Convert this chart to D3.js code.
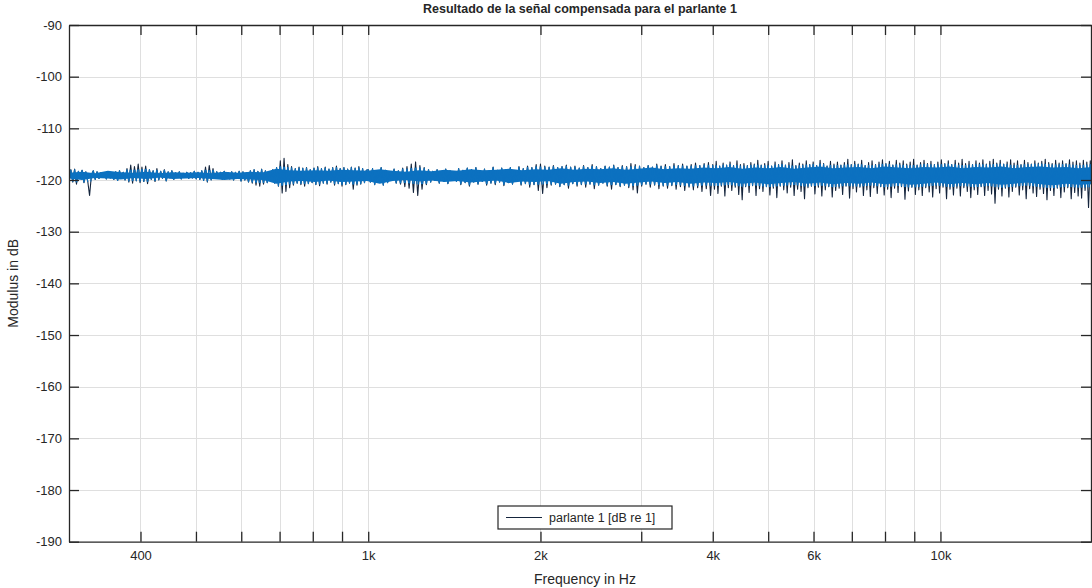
<!DOCTYPE html>
<html>
<head>
<meta charset="utf-8">
<script src="https://cdn.jsdelivr.net/npm/d3@7"></script>
<style>
  body { margin: 0; background: #fff; }
  svg text { font-family: "Liberation Sans", Arial, Helvetica, sans-serif; fill: #262626; }
</style>
</head>
<body>
<svg id="chart" width="1092" height="588"></svg>
<script>
// ── Data ─────────────────────────────────────────────────────────────────────

const chartTitle = "Resultado de la señal compensada para el parlante 1";
const xLabel = "Frequency in Hz";
const yLabel = "Modulus in dB";
const legendLabel = "parlante 1 [dB re 1]";

const freqRange = [300, 18400];
const dbRange = [-190, -90];
const yTicks = [-190, -180, -170, -160, -150, -140, -130, -120, -110, -100, -90];
const xGridTicks = [400, 500, 600, 700, 800, 900, 1000, 2000, 3000, 4000, 5000, 6000, 7000, 8000, 9000, 10000];
const xTickLabels = { 400: "400", 1000: "1k", 2000: "2k", 4000: "4k", 6000: "6k", 10000: "10k" };

// spectrum readings, dB, in three bands (samples evenly spread on the log axis)
const segEdges = [300, 1000, 4000, 18400];

const segA = [ // 300 Hz – 1 kHz
  -119.2,-118.0,-120.4,-117.9,-120.8,-118.3,-119.6,-118.1,-120.5,-118.4,
  -120.2,-123.0,-119.0,-118.2,-119.9,-118.4,-119.7,-118.6,-119.5,-118.7,
  -119.8,-118.5,-119.6,-118.8,-119.9,-118.4,-120.1,-118.2,-119.7,-118.5,
  -120.0,-117.8,-120.4,-117.1,-120.6,-117.4,-120.2,-116.9,-120.5,-117.5,
  -120.3,-117.3,-120.7,-118.0,-119.9,-118.2,-120.3,-117.8,-120.0,-118.3,
  -119.7,-118.0,-120.2,-118.4,-119.6,-118.2,-119.9,-118.6,-119.5,-118.4,
  -119.8,-118.7,-119.4,-118.5,-119.7,-118.6,-119.6,-118.3,-119.8,-118.5,
  -119.9,-118.2,-120.1,-117.5,-120.4,-117.2,-120.0,-117.8,-119.7,-118.4,
  -119.6,-118.5,-119.9,-118.3,-119.7,-118.6,-119.8,-118.4,-120.0,-118.5,
  -119.7,-118.3,-120.2,-118.4,-120.0,-118.6,-120.4,-118.2,-120.6,-118.0,
  -121.0,-118.3,-121.2,-117.9,-120.8,-118.2,-120.5,-118.4,-120.1,-118.0,
  -120.6,-117.6,-121.2,-116.3,-122.5,-115.8,-122.2,-117.0,-121.5,-117.4,
  -121.0,-117.8,-120.6,-117.5,-120.9,-117.7,-121.2,-117.6,-120.7,-118.0,
  -120.5,-117.7,-120.9,-117.4,-121.1,-117.8,-120.6,-117.5,-120.8,-117.9,
  -120.4,-117.6,-121.0,-117.3,-120.7,-117.8,-121.2,-117.6,-120.9,-117.9,
  -120.6,-117.5,-121.8,-117.7,-121.0,-117.4,-120.8,-117.8,-120.5,-118.1
];

const segB = [ // 1 kHz – 4 kHz
  -118.0,-120.4,-117.8,-120.9,-118.3,-120.2,-117.6,-121.0,-118.1,-120.5,
  -118.4,-120.1,-117.9,-120.6,-118.2,-120.8,-117.7,-121.3,-117.4,-121.6,
  -116.9,-122.4,-116.5,-123.0,-117.2,-121.8,-117.6,-120.9,-118.0,-120.4,
  -118.3,-120.1,-118.0,-120.6,-118.4,-120.2,-117.9,-120.7,-118.2,-120.0,
  -118.5,-120.3,-117.8,-120.9,-118.1,-120.5,-117.7,-121.2,-118.0,-120.4,
  -117.6,-120.8,-118.2,-120.3,-117.9,-121.0,-118.3,-120.6,-117.5,-120.9,
  -118.1,-120.4,-117.7,-121.1,-118.0,-120.5,-117.6,-120.8,-118.2,-120.3,
  -117.4,-121.0,-117.8,-120.7,-117.3,-121.4,-117.6,-120.9,-117.0,-122.0,
  -116.9,-122.6,-117.3,-121.5,-117.5,-121.0,-117.2,-120.8,-117.6,-121.3,
  -117.4,-120.9,-117.1,-121.6,-117.5,-120.7,-117.3,-121.2,-117.7,-120.9,
  -117.2,-121.4,-117.6,-120.8,-117.0,-121.7,-117.4,-121.0,-117.8,-120.6,
  -117.3,-121.2,-117.5,-121.8,-117.1,-120.9,-117.6,-121.3,-117.2,-121.0,
  -117.4,-121.5,-116.8,-121.9,-117.0,-122.5,-117.3,-121.2,-117.6,-120.8,
  -117.2,-121.4,-117.5,-121.0,-116.9,-121.7,-117.3,-121.2,-117.0,-121.6,
  -117.4,-121.1,-116.8,-121.8,-117.2,-121.3,-116.9,-122.0,-117.3,-121.4,
  -117.0,-121.9,-116.7,-121.5,-117.2,-122.2,-116.8,-121.7,-116.6,-123.0
];

const segC = [ // 4 kHz – 18.4 kHz
  -117.0,-121.8,-116.4,-122.6,-117.3,-121.2,-116.7,-123.1,-117.1,-121.5,
  -116.5,-122.0,-117.2,-121.4,-116.3,-122.8,-117.0,-123.8,-116.8,-121.3,
  -117.2,-122.4,-116.6,-121.1,-116.9,-123.0,-116.2,-121.7,-117.1,-122.2,
  -116.8,-121.3,-116.4,-122.9,-117.3,-121.6,-116.5,-123.4,-117.0,-121.2,
  -116.3,-121.9,-117.1,-122.5,-116.6,-121.4,-116.1,-123.0,-117.2,-121.8,
  -116.7,-122.2,-116.9,-123.6,-116.3,-121.5,-117.0,-121.2,-116.5,-122.7,
  -117.2,-121.4,-116.2,-123.1,-116.8,-121.9,-117.3,-121.3,-116.4,-123.3,
  -116.9,-122.0,-116.5,-121.6,-117.1,-122.8,-116.6,-121.2,-116.0,-123.5,
  -117.0,-121.7,-116.4,-122.3,-116.9,-121.4,-116.2,-123.0,-117.2,-121.9,
  -116.6,-123.2,-116.3,-121.5,-117.0,-122.6,-116.5,-121.3,-116.1,-122.9,
  -116.8,-121.8,-116.4,-123.4,-117.1,-121.6,-116.2,-122.4,-116.7,-121.3,
  -116.3,-123.7,-116.9,-122.1,-116.5,-121.4,-116.0,-122.8,-117.1,-121.9,
  -116.6,-123.0,-116.2,-121.5,-116.8,-122.3,-116.4,-123.3,-117.0,-121.7,
  -116.5,-122.5,-116.1,-121.4,-116.8,-123.6,-116.3,-121.8,-117.0,-122.9,
  -116.2,-121.6,-116.7,-123.1,-116.0,-121.5,-116.8,-122.2,-116.4,-123.4,
  -117.0,-121.9,-116.3,-122.8,-116.7,-121.3,-116.1,-123.0,-116.9,-122.0,
  -116.4,-122.7,-116.0,-124.5,-116.7,-121.8,-116.2,-123.1,-116.9,-121.6,
  -116.5,-123.3,-116.1,-122.2,-116.7,-121.4,-116.3,-122.9,-117.0,-121.9,
  -116.2,-123.6,-116.6,-121.7,-116.9,-122.5,-116.3,-123.2,-116.7,-121.8,
  -116.4,-122.6,-116.0,-123.8,-116.6,-122.0,-116.8,-123.0,-116.2,-121.6,
  -116.7,-123.4,-116.3,-122.3,-116.8,-121.5,-116.1,-123.6,-116.5,-122.4,
  -116.3,-123.1,-116.7,-123.5,-116.2,-122.0,-116.5,-125.3,-116.3,-122.7
];

// dense core of the trace (upper / lower edge of the solid blue band), 300 Hz – 18.4 kHz
const coreHi = [
  -118.6,-118.4,-118.7,-118.2,-118.5,-118.6,-118.4,-118.7,-118.5,-118.6,
  -118.5,-118.7,-118.4,-118.6,-118.4,-118.5,-117.8,-118.1,-118.2,-118.1,
  -118.2,-118.0,-118.1,-118.2,-117.9,-118.2,-118.4,-118.1,-118.3,-118.0,
  -118.2,-117.9,-118.1,-118.0,-117.8,-118.1,-117.9,-118.0,-117.7,-118.0,
  -117.8,-117.9,-117.7,-118.0,-117.8,-117.6,-117.9,-117.7,-117.8,-117.6,
  -117.7,-117.5,-117.8,-117.6,-117.7,-117.5,-117.8,-117.6,-117.4,-117.7,
  -117.6,-117.5,-117.7,-117.4,-117.6,-117.7,-117.5,-117.6,-117.4,-117.7,
  -117.5,-117.6,-117.4,-117.7,-117.5,-117.4,-117.6,-117.5,-117.7,-117.5
];
const coreLo = [
  -119.7,-120.0,-119.6,-119.7,-119.9,-119.6,-119.8,-119.5,-119.8,-119.7,
  -119.6,-119.8,-120.0,-119.8,-119.9,-120.0,-120.7,-120.3,-120.2,-120.4,
  -120.1,-120.4,-120.3,-120.2,-120.7,-120.2,-120.0,-120.3,-120.1,-120.4,
  -120.2,-120.5,-120.3,-120.1,-120.6,-120.3,-120.4,-120.2,-120.7,-120.4,
  -120.3,-120.6,-120.4,-120.7,-120.5,-120.3,-120.6,-120.4,-120.7,-120.5,
  -120.6,-120.4,-120.7,-120.5,-120.8,-120.6,-120.4,-120.7,-120.5,-120.8,
  -120.6,-120.7,-120.5,-120.8,-120.6,-120.9,-120.7,-120.5,-120.8,-120.6,
  -120.8,-120.6,-120.9,-120.7,-120.5,-120.8,-121.0,-120.7,-120.9,-120.8
];

// ── Layout ───────────────────────────────────────────────────────────────────

const W = 1092, H = 588;
const P = { left: 69, top: 25, right: 1092, bottom: 541.7 };
const NAVY = "#15253d", BLUE = "#0c71c0", INK = "#262626";
const FRINGE = 3; // px of blue fringe around the solid core

const svg = d3.select("#chart");

const x = d3.scaleLog().domain(freqRange).range([P.left, P.right]);
const y = d3.scaleLinear().domain(dbRange).range([P.bottom, P.top]);

// sample positions: evenly spread on log frequency within each band
function spread(vals, f0, f1, dropLast) {
  const n = vals.length;
  return vals.map((v, i) => ({
    f: Math.exp(Math.log(f0) + (Math.log(f1) - Math.log(f0)) * i / (n - (dropLast ? 0 : 1))),
    db: v
  }));
}

const trace = [
  ...spread(segA, segEdges[0], segEdges[1], true),
  ...spread(segB, segEdges[1], segEdges[2], true),
  ...spread(segC, segEdges[2], segEdges[3], false)
];
const coreF = spread(coreHi, freqRange[0], freqRange[1], false).map(d => d.f);
const core = coreF.map((f, i) => ({ f, hi: coreHi[i], lo: coreLo[i] }));

// ── Grid ─────────────────────────────────────────────────────────────────────

const defs = svg.append("defs");
defs.append("clipPath").attr("id", "plot-clip")
  .append("rect")
  .attr("x", P.left).attr("y", P.top)
  .attr("width", P.right - P.left).attr("height", P.bottom - P.top);
defs.append("clipPath").attr("id", "core-clip")
  .append("path")
  .datum(core)
  .attr("d", d3.area().x(d => x(d.f))
    .y0(d => y(d.lo) + FRINGE).y1(d => y(d.hi) - FRINGE));

const grid = svg.append("g").attr("stroke", "#dfdfdf").attr("stroke-width", 1);
grid.selectAll("line.gx").data(xGridTicks).join("line")
  .attr("x1", d => Math.round(x(d)) + 0.5).attr("x2", d => Math.round(x(d)) + 0.5)
  .attr("y1", P.top).attr("y2", P.bottom);
grid.selectAll("line.gy").data(yTicks.slice(1, -1)).join("line")
  .attr("x1", P.left).attr("x2", P.right)
  .attr("y1", d => Math.round(y(d)) + 0.5).attr("y2", d => Math.round(y(d)) + 0.5);

// ── Trace ────────────────────────────────────────────────────────────────────

const plot = svg.append("g").attr("clip-path", "url(#plot-clip)");
const traceLine = d3.line().x(d => x(d.f)).y(d => y(d.db));

// full trace, dark
plot.append("path")
  .datum(trace)
  .attr("fill", "none")
  .attr("stroke", NAVY)
  .attr("stroke-width", 1.1)
  .attr("stroke-linejoin", "round")
  .attr("d", traceLine);

// solid core
plot.append("path")
  .datum(core)
  .attr("fill", BLUE)
  .attr("d", d3.area().x(d => x(d.f)).y0(d => y(d.lo)).y1(d => y(d.hi)));

// trace again in blue, only near the core -> ragged blue edge
plot.append("g").attr("clip-path", "url(#core-clip)")
  .append("path")
  .datum(trace)
  .attr("fill", "none")
  .attr("stroke", BLUE)
  .attr("stroke-width", 1.1)
  .attr("stroke-linejoin", "round")
  .attr("d", traceLine);

// ── Axes ─────────────────────────────────────────────────────────────────────

function styleAxis(g) {
  g.selectAll("path").attr("stroke", INK).attr("stroke-width", 1.3);
  g.selectAll("line").attr("stroke", INK).attr("stroke-width", 1.3);
  g.selectAll("text").attr("font-size", 13).attr("fill", INK)
    .attr("font-family", "'Liberation Sans', Arial, sans-serif");
}

svg.append("g")
  .attr("transform", `translate(0,${P.bottom})`)
  .call(d3.axisBottom(x).tickValues(xGridTicks).tickSize(-10).tickSizeOuter(0).tickPadding(9)
    .tickFormat(d => xTickLabels[d] || ""))
  .call(styleAxis);

svg.append("g")
  .attr("transform", `translate(0,${P.top})`)
  .call(d3.axisTop(x).tickValues(xGridTicks).tickSize(-10).tickSizeOuter(0).tickFormat(""))
  .call(styleAxis);

svg.append("g")
  .attr("transform", `translate(${P.left},0)`)
  .call(d3.axisLeft(y).tickValues(yTicks).tickSize(-10).tickSizeOuter(0).tickPadding(7)
    .tickFormat(d => String(d)))
  .call(styleAxis);

svg.append("g")
  .attr("transform", `translate(${P.right - 1},0)`)
  .call(d3.axisRight(y).tickValues(yTicks).tickSize(-10).tickSizeOuter(0).tickFormat(""))
  .call(styleAxis);

// ── Labels ───────────────────────────────────────────────────────────────────

svg.append("text")
  .attr("x", 580).attr("y", 13)
  .attr("text-anchor", "middle")
  .attr("font-size", 12.5).attr("font-weight", "bold")
  .text(chartTitle);

svg.append("text")
  .attr("x", 585).attr("y", 584)
  .attr("text-anchor", "middle")
  .attr("font-size", 14)
  .text(xLabel);

svg.append("text")
  .attr("transform", `translate(18,${(P.top + P.bottom) / 2}) rotate(-90)`)
  .attr("text-anchor", "middle")
  .attr("font-size", 14)
  .text(yLabel);

// ── Legend ───────────────────────────────────────────────────────────────────

const lg = svg.append("g").attr("transform", "translate(498,506)");
lg.append("rect")
  .attr("width", 174).attr("height", 23)
  .attr("fill", "#fff").attr("stroke", INK).attr("stroke-width", 1.2);
lg.append("line")
  .attr("x1", 8).attr("x2", 44).attr("y1", 11.5).attr("y2", 11.5)
  .attr("stroke", NAVY).attr("stroke-width", 1);
lg.append("text")
  .attr("x", 51).attr("y", 16)
  .attr("font-size", 12.5)
  .text(legendLabel);
</script>
</body>
</html>
